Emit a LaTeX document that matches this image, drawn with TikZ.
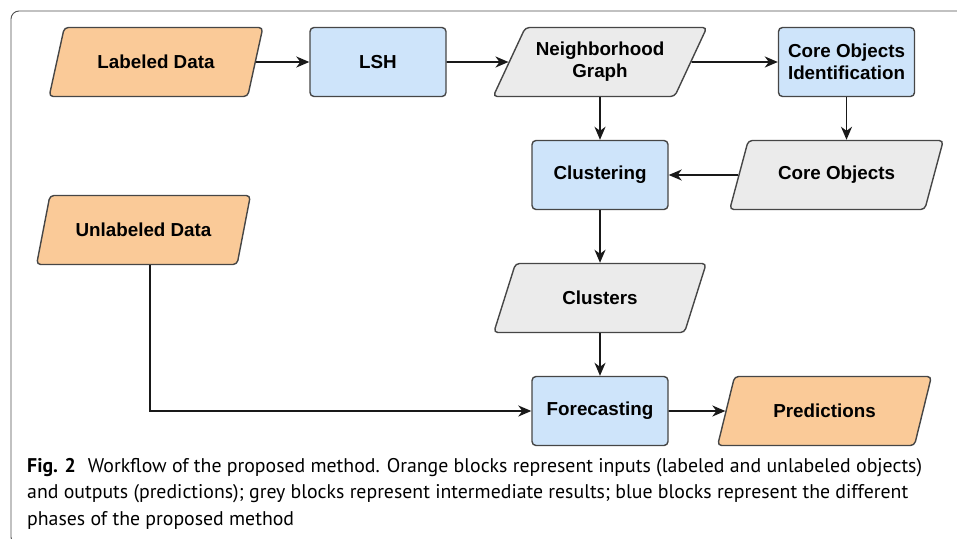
\documentclass[tikz,border=0pt]{standalone}
\usepackage{fontspec}
\setmainfont{Liberation Sans}
\newfontfamily\capfont{PT Sans}
\usetikzlibrary{shapes.geometric,arrows.meta,calc}
\definecolor{orangefill}{RGB}{250,202,152}
\definecolor{bluefill}{RGB}{206,228,250}
\definecolor{greyfill}{RGB}{235,235,235}
\definecolor{edgecol}{RGB}{70,70,70}
\definecolor{linecol}{RGB}{25,25,25}
\definecolor{framecol}{RGB}{80,80,80}
\begin{document}
\begin{tikzpicture}[x=1pt,y=-1pt,
  base/.style={draw=edgecol, line width=1.4pt, rounded corners=4pt,
    font=\fontsize{18.8}{22}\selectfont\bfseries, text=black, align=center, inner sep=0pt},
  procbox/.style={base, rectangle, fill=bluefill, minimum width=136pt, minimum height=69pt},
  para/.style={base, trapezium, trapezium left angle=55, trapezium right angle=125,
    trapezium stretches=true, minimum width=214pt, minimum height=69pt},
  inbox/.style={para, fill=orangefill},
  midbox/.style={para, fill=greyfill},
  arr/.style={draw=linecol, line width=1.7pt, -{Stealth[length=13pt,width=11pt,inset=4pt]}},
  capline/.style={anchor=base west, inner sep=0pt, font=\capfont\fontsize{19.8}{22}\selectfont, text=black}
]
\useasboundingbox (0,0) rectangle (957,538);
\clip (0,0) rectangle (957,538);
\draw[framecol, line width=0.9pt, rounded corners=8pt] (11,11) rectangle (975,545);

\node[inbox]  (ld)  at (156,62)   {Labeled Data};
\node[procbox] (lsh) at (378,62)  {LSH};
\node[midbox] (ng)  at (600,62)   {Neighborhood\\Graph};
\node[procbox] (coi) at (846.5,62) {Core Objects\\Identification};
\node[procbox] (cl)  at (600,175) {Clustering};
\node[midbox] (co)  at (836.5,175) {Core Objects};
\node[inbox]  (ud)  at (143.5,230) {Unlabeled Data};
\node[midbox] (cs)  at (600,298)  {Clusters};
\node[procbox] (fc)  at (600,411) {Forecasting};
\node[inbox]  (pr)  at (824.5,411) {Predictions};

\draw[arr] (ld.east) -- (lsh.west);
\draw[arr] (lsh.east) -- (ng.west);
\draw[arr] (ng.east) -- (coi.west);
\draw[arr] (coi.south) -- (coi.south |- co.north);
\draw[arr] (co.west) -- (cl.east);
\draw[arr] (ng.south) -- (cl.north);
\draw[arr] (cl.south) -- (cs.north);
\draw[arr] (cs.south) -- (fc.north);
\draw[arr] (fc.east) -- (pr.west);
\coordinate (udout) at ([xshift=6.5pt]ud.south);
\draw[arr] (udout) |- (fc.west);

\node[capline] (c1) at (27,472) {\textbf{Fig. 2}\hspace{0.6em}Workflow of the proposed method. Orange blocks represent inputs (labeled and unlabeled objects)};
\node[capline] (c2) at (27,498.5) {and outputs (predictions); grey blocks represent intermediate results; blue blocks represent the different};
\node[capline] (c3) at (27,525) {phases of the proposed method};
\end{tikzpicture}
\end{document}
